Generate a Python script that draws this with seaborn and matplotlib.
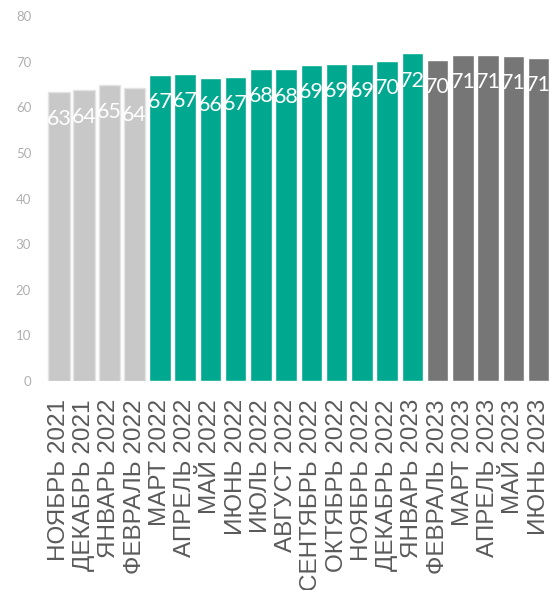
import matplotlib
matplotlib.use('Agg')
import matplotlib.pyplot as plt
import seaborn as sns

# data
months = ['НОЯБРЬ 2021', 'ДЕКАБРЬ 2021', 'ЯНВАРЬ 2022', 'ФЕВРАЛЬ 2022',
          'МАРТ 2022', 'АПРЕЛЬ 2022', 'МАЙ 2022', 'ИЮНЬ 2022', 'ИЮЛЬ 2022',
          'АВГУСТ 2022', 'СЕНТЯБРЬ 2022', 'ОКТЯБРЬ 2022', 'НОЯБРЬ 2022',
          'ДЕКАБРЬ 2022', 'ЯНВАРЬ 2023', 'ФЕВРАЛЬ 2023', 'МАРТ 2023',
          'АПРЕЛЬ 2023', 'МАЙ 2023', 'ИЮНЬ 2023']
values = [63.4, 63.8, 64.8, 64.2, 67.0, 67.4, 66.4, 66.6, 68.4, 68.3,
          69.2, 69.4, 69.4, 70.2, 71.8, 70.4, 71.4, 71.4, 71.2, 70.9]
groups = ['past'] * 4 + ['current'] * 11 + ['forecast'] * 5
yticks = [0, 10, 20, 30, 40, 50, 60, 70, 80]

group_colors = {'past': '#c8c8c8', 'current': '#00a88f', 'forecast': '#767676'}
bar_colors = [group_colors[g] for g in groups]

sns.set_style('white')
plt.rcParams['font.family'] = ['Lato', 'DejaVu Sans']

fig = plt.figure(figsize=(5.51, 5.90), dpi=100)
ax = fig.add_axes([0.0817, 0.3542, 0.9165, 0.6186])

sns.barplot(x=months, y=values, hue=months, palette=bar_colors,
            legend=False, width=0.85, saturation=1, ax=ax)

# lighter outline on the grey history bars
for patch, g in zip(ax.patches, groups):
    if g == 'past':
        patch.set_edgecolor('#e4e4e4')
        patch.set_linewidth(1)

for i, v in enumerate(values):
    ax.annotate(f'{round(v):d}', (i, v), xytext=(0, -19.5), textcoords='offset points',
                ha='center', va='center', color='white', fontsize=15.5)

ax.set_xlim(-0.55, 19.45)
ax.set_ylim(0, 80)
ax.set_yticks(yticks)
ax.set_yticklabels([str(t) for t in yticks], color='#b0b0b0', fontsize=9.5)
ax.set_xticks(range(len(months)))
ax.set_xticklabels(months, rotation=90, ha='center', va='top', color='#5a5a5a',
                   fontsize=17.5, family=['Liberation Sans', 'DejaVu Sans'])
ax.tick_params(axis='x', length=0, pad=13)
ax.tick_params(axis='y', length=0, pad=10)
ax.set_xlabel('')
ax.set_ylabel('')
sns.despine(ax=ax, left=True, bottom=True)

fig.savefig('out.png', dpi=100)
